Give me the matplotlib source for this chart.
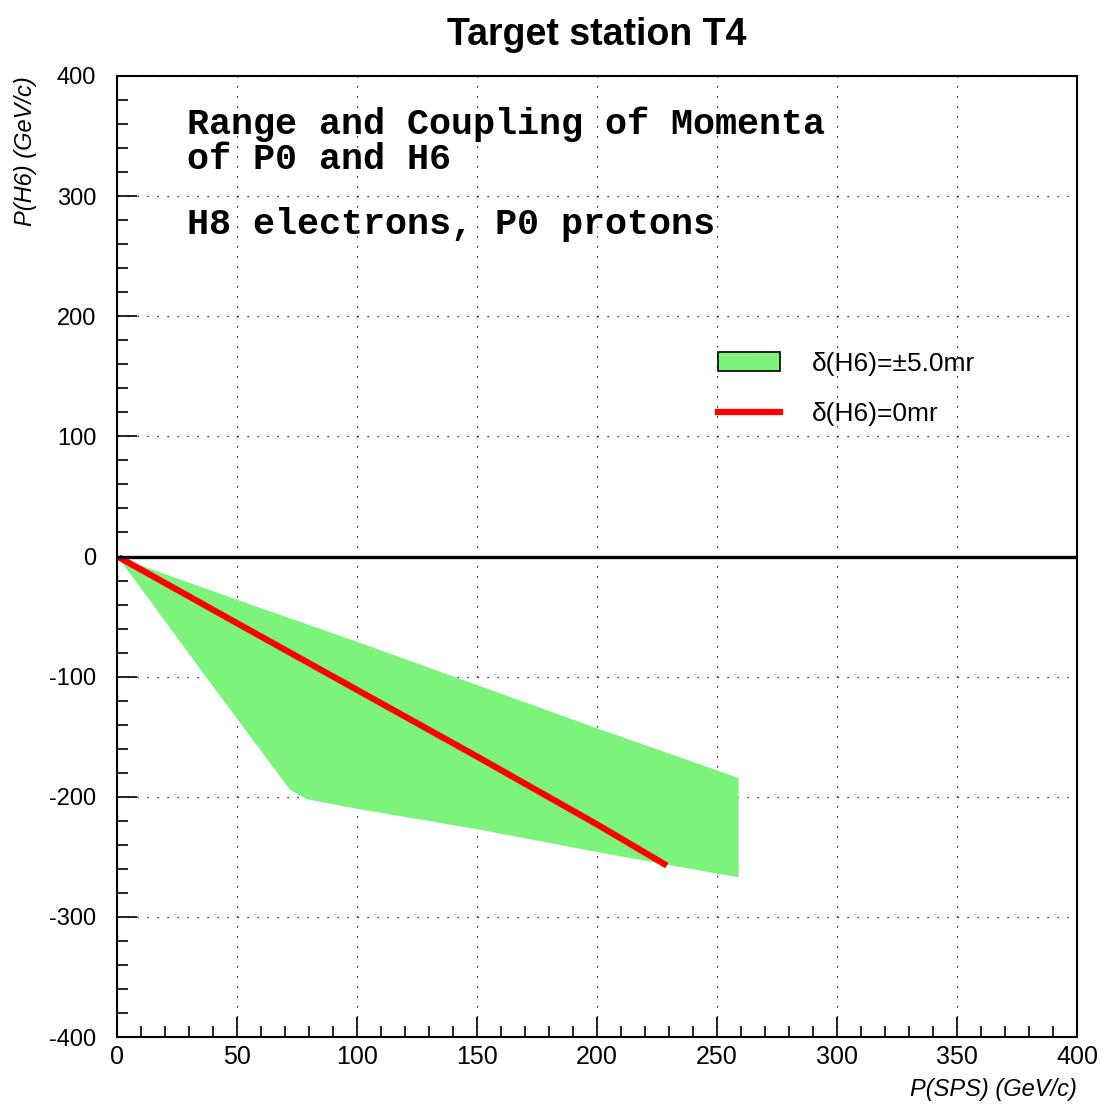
import matplotlib
matplotlib.use("Agg")
import matplotlib.pyplot as plt
from matplotlib.patches import Patch
from matplotlib.lines import Line2D
from matplotlib.ticker import MultipleLocator

plt.rcParams["axes.unicode_minus"] = False

# band of reachable momenta, delta(H6) = +-5.0 mr (polygon outline)
band_x = [1.5, 50, 100, 150, 200, 250, 259, 259, 250, 200, 150,
          100, 79, 72, 37, 1.5]
band_y = [-1.5, -36, -71, -107, -143, -178, -184.5, -267, -264, -246, -227,
          -210, -202, -194, -100, -3.5]

# central coupling, delta(H6) = 0 mr
line_x = [2, 50, 100, 150, 200, 228]
line_y = [-2, -55.5, -111, -166.5, -223, -256]

labels = ["\u03b4(H6)=\u00b15.0mr", "\u03b4(H6)=0mr"]

sans = ["Liberation Sans", "DejaVu Sans"]
mono = ["Liberation Mono", "DejaVu Sans Mono"]
green = "#7cf47c"

fig = plt.figure(figsize=(11.01, 11.04), dpi=100)
ax = fig.add_axes([117 / 1101, 67 / 1104, 960 / 1101, 961 / 1104])

ax.set_xlim(0, 400)
ax.set_ylim(-400, 400)

ax.grid(True, which="major", color="black", linestyle=(0, (1, 7)), linewidth=0.9)
ax.set_axisbelow(True)

ax.fill(band_x, band_y, color=green, linewidth=0, zorder=2)
ax.plot(line_x, line_y, color="#ff0000", linewidth=4.5, zorder=3)
ax.axhline(0, color="black", linewidth=2.4, zorder=4)

ax.xaxis.set_major_locator(MultipleLocator(50))
ax.xaxis.set_minor_locator(MultipleLocator(10))
ax.yaxis.set_major_locator(MultipleLocator(100))
ax.yaxis.set_minor_locator(MultipleLocator(20))
ax.tick_params(which="both", direction="in", top=False, right=False, width=1.2)
ax.tick_params(which="major", length=14.5)
ax.tick_params(which="minor", length=8)
ax.tick_params(axis="y", pad=15)
ax.tick_params(axis="x", pad=6)
for lab in ax.get_xticklabels():
    lab.set_family(sans)
    lab.set_fontsize(18)
for lab in ax.get_yticklabels():
    lab.set_family(sans)
    lab.set_fontsize(17)
for sp in ax.spines.values():
    sp.set_linewidth(1.5)

ax.set_xlabel("P(SPS) (GeV/c)", family=sans, style="italic", fontsize=17, loc="right")
ax.xaxis.set_label_coords(1.0, -0.043)
ax.set_ylabel("P(H6) (GeV/c)", family=sans, style="italic", fontsize=17, loc="top")
ax.yaxis.set_label_coords(-0.083, 1.0)

ax.set_title("Target station T4", family=sans, fontweight="bold", fontsize=27, pad=22)

ax.text(29.2, 351.7, "Range and Coupling of Momenta", family=mono,
        fontweight="bold", fontsize=26.5, va="baseline", zorder=5)
ax.text(29.2, 322.5, "of P0 and H6", family=mono,
        fontweight="bold", fontsize=26.5, va="baseline", zorder=5)
ax.text(29.2, 268.3, "H8 electrons, P0 protons", family=mono,
        fontweight="bold", fontsize=26.5, va="baseline", zorder=5)

handles = [Patch(facecolor=green, edgecolor="black", linewidth=1.2),
           Line2D([], [], color="#ff0000", linewidth=4.5)]
ax.legend(handles, labels, loc="upper left", bbox_to_anchor=(0.626, 0.713),
          frameon=False, prop={"family": sans, "size": 19},
          handlelength=2.35, handleheight=0.76, handletextpad=1.2,
          labelspacing=1.0, borderpad=0, borderaxespad=0)

fig.savefig("out.png", dpi=100)
